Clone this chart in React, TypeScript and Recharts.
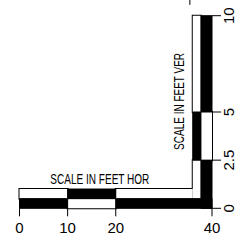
import React from "react";
import {
  ComposedChart,
  XAxis,
  YAxis,
  Scatter,
  ReferenceArea,
  ReferenceDot,
  ReferenceLine,
} from "recharts";

const FONT = "'Liberation Sans', Arial, sans-serif";

const horTicks = [0, 10, 20, 40];
const verTicks = [0, 2.5, 5, 10];

// horizontal scale, two rows of cells (feet)
const horLowRow = [
  { from: 0, to: 10, black: true },
  { from: 10, to: 20, black: false },
  { from: 20, to: 40, black: true },
];
const horHighRow = [
  { from: 0, to: 10, black: false },
  { from: 10, to: 20, black: true },
  { from: 20, to: 36, black: false },
];

// vertical scale, two columns of cells (feet)
const verInnerCol = [
  { from: 0.5, to: 2.5, black: false },
  { from: 2.5, to: 5, black: true },
  { from: 5, to: 10, black: false },
];
const verOuterCol = [
  { from: 0, to: 2.5, black: true },
  { from: 2.5, to: 5, black: false },
  { from: 5, to: 10, black: true },
];

// the two ends of the scales, so the chart has something to lay out
const extent = [
  { x: 0, y: 0 },
  { x: 40, y: 10 },
];

type Cell = { x1: number; x2: number; y1: number; y2: number; black: boolean };

const cells: Cell[] = [
  ...horLowRow.map((c) => ({ x1: c.from, x2: c.to, y1: 0, y2: 0.5, black: c.black })),
  ...horHighRow.map((c) => ({ x1: c.from, x2: c.to, y1: 0.5, y2: 1, black: c.black })),
  ...verInnerCol.map((c) => ({ x1: 36, x2: 37.7, y1: c.from, y2: c.to, black: c.black })),
  ...verOuterCol.map((c) => ({ x1: 37.7, x2: 40, y1: c.from, y2: c.to, black: c.black })),
];
const whiteCells = cells.filter((c) => !c.black);
const blackCells = cells.filter((c) => c.black);

function VerTick(props: any) {
  const { x, y, payload } = props;
  return (
    <text
      x={x}
      y={y}
      dy="0.71em"
      textAnchor="middle"
      transform={`rotate(-90 ${x} ${y})`}
      fontSize={15}
      fontFamily={FONT}
      fill="#000"
    >
      {payload.value}
    </text>
  );
}

function title(text: string, vertical: boolean, len: number) {
  return (props: any) => {
    const { cx, cy } = props;
    return (
      <text
        x={cx}
        y={cy}
        textAnchor="middle"
        transform={vertical ? `rotate(-90 ${cx} ${cy})` : undefined}
        fontSize={15}
        fontFamily={FONT}
        fill="#000"
        textLength={len}
        lengthAdjust="spacingAndGlyphs"
      >
        {text}
      </text>
    );
  };
}

export default function App() {
  return (
    <div style={{ position: "absolute", left: 0, top: 0, background: "#fff" }}>
      <ComposedChart
        width={245}
        height={243}
        data={extent}
        margin={{ top: 15.7, right: 0, bottom: 0, left: 19.5 }}
      >
        <XAxis
          type="number"
          dataKey="x"
          domain={[0, 40]}
          ticks={horTicks}
          interval={0}
          height={34.7}
          axisLine={false}
          tickLine={{ stroke: "#000" }}
          tickSize={8}
          tickMargin={6}
          tick={{ fill: "#000", fontSize: 15, fontFamily: FONT }}
        />
        <YAxis
          type="number"
          dataKey="y"
          orientation="right"
          domain={[0, 10]}
          ticks={verTicks}
          interval={0}
          width={33}
          axisLine={false}
          tickLine={{ stroke: "#000" }}
          tickSize={9}
          tickMargin={2.5}
          tick={(p: any) => <VerTick {...p} />}
        />
        <Scatter
          data={extent}
          dataKey="y"
          fill="none"
          shape={() => <g />}
          isAnimationActive={false}
        />
        {whiteCells.map((c, i) => (
          <ReferenceArea
            key={`ws${i}`}
            x1={c.x1}
            x2={c.x2}
            y1={c.y1}
            y2={c.y2}
            fill="#fff"
            fillOpacity={1}
            stroke="#000"
            strokeWidth={2}
            ifOverflow="visible"
          />
        ))}
        {whiteCells.map((c, i) => (
          <ReferenceArea
            key={`wf${i}`}
            x1={c.x1}
            x2={c.x2}
            y1={c.y1}
            y2={c.y2}
            fill="#fff"
            fillOpacity={1}
            stroke="none"
            ifOverflow="visible"
          />
        ))}
        {blackCells.map((c, i) => (
          <ReferenceArea
            key={`b${i}`}
            x1={c.x1}
            x2={c.x2}
            y1={c.y1}
            y2={c.y2}
            fill="#000"
            fillOpacity={1}
            stroke="#000"
            strokeWidth={1}
            ifOverflow="visible"
          />
        ))}
        <ReferenceLine
          segment={[
            { x: 35.4, y: 10.56 },
            { x: 35.4, y: 10.85 },
          ]}
          stroke="#000"
          ifOverflow="visible"
        />
        <ReferenceDot
          x={16.7}
          y={1.26}
          r={0}
          ifOverflow="visible"
          shape={title("SCALE IN FEET HOR", false, 99)}
        />
        <ReferenceDot
          x={34.1}
          y={5.55}
          r={0}
          ifOverflow="visible"
          shape={title("SCALE IN FEET VER", true, 97)}
        />
      </ComposedChart>
    </div>
  );
}
